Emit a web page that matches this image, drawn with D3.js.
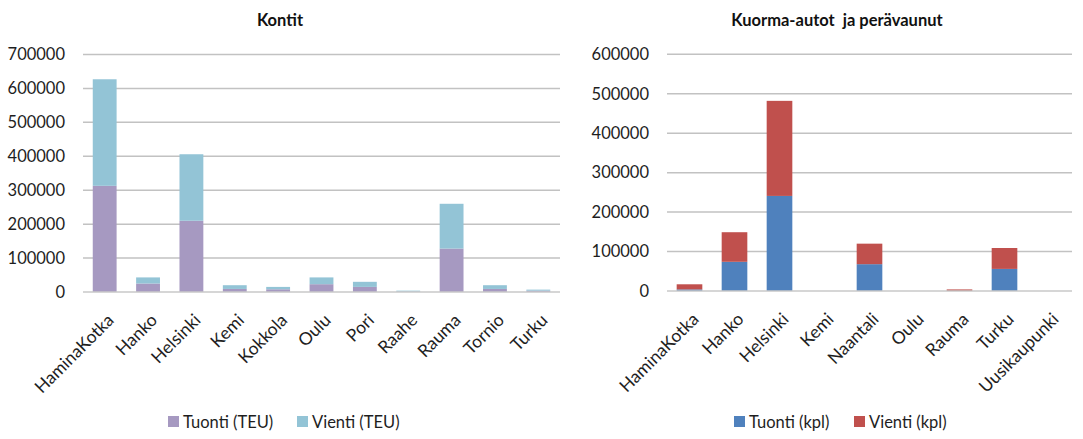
<!DOCTYPE html>
<html>
<head>
<meta charset="utf-8">
<script src="https://cdn.jsdelivr.net/npm/d3@7"></script>
<style>
  html, body { margin: 0; padding: 0; background: #fff; }
  svg { display: block; font-family: Lato, "Open Sans", sans-serif; }
  .title { white-space: pre; }
</style>
</head>
<body>
<svg id="chart" width="1083" height="439"></svg>
<script>
// Kontit (TEU) by port
const konttiPorts = ["HaminaKotka", "Hanko", "Helsinki", "Kemi", "Kokkola", "Oulu", "Pori", "Raahe", "Rauma", "Tornio", "Turku"];
const konttiTuonti = [313000, 25000, 210000, 9000, 8000, 23000, 15000, 1000, 128000, 9000, 4000];
const konttiVienti = [314000, 18000, 196000, 11000, 7000, 20000, 15000, 3000, 132000, 11000, 3000];
const konttiTicks = [0, 100000, 200000, 300000, 400000, 500000, 600000, 700000];

// Kuorma-autot ja perävaunut (kpl) by port
const autoPorts = ["HaminaKotka", "Hanko", "Helsinki", "Kemi", "Naantali", "Oulu", "Rauma", "Turku", "Uusikaupunki"];
const autoTuonti = [4000, 74000, 241000, 0, 68000, 0, 0, 56000, 0];
const autoVienti = [13000, 75000, 241000, 0, 52000, 0, 4000, 53000, 0];
const autoTicks = [0, 100000, 200000, 300000, 400000, 500000, 600000];

const svg = d3.select("#chart");
const textColor = "#1e1e1e";

function drawChart(opt) {
  const g = svg.append("g");
  const x = d3.scaleBand().domain(opt.categories).range([opt.x0, opt.x1]).paddingInner(opt.pad).paddingOuter(opt.pad / 2);
  const y = d3.scaleLinear().domain([0, opt.max]).range([opt.y0, opt.y1]);

  // title
  g.append("text")
    .attr("class", "title")
    .attr("x", opt.titleX).attr("y", 26)
    .attr("text-anchor", "middle")
    .attr("font-size", 16.5).attr("font-weight", "bold").attr("fill", "#111")
    .text(opt.title);

  // horizontal gridlines
  g.append("g").selectAll("line")
    .data(opt.ticks.filter(t => t > 0))
    .join("line")
    .attr("x1", opt.x0).attr("x2", opt.x1)
    .attr("y1", d => y(d)).attr("y2", d => y(d))
    .attr("stroke", "#c2c2c2").attr("stroke-width", 1.5);

  // y axis labels
  const yAxis = d3.axisLeft(y).tickValues(opt.ticks).tickSize(0).tickPadding(opt.yPad).tickFormat(d3.format("d"));
  const ya = g.append("g").attr("transform", `translate(${opt.x0},0)`).call(yAxis);
  ya.select(".domain").remove();
  ya.selectAll("text").attr("font-size", 16.5).attr("fill", textColor).attr("font-family", "Lato, sans-serif");

  // stacked bars
  const rows = opt.categories.map((c, i) => ({ c, a: opt.tuonti[i], b: opt.vienti[i] }));
  g.append("g").selectAll("rect")
    .data(rows).join("rect")
    .attr("x", d => x(d.c)).attr("width", x.bandwidth())
    .attr("y", d => y(d.a)).attr("height", d => y(0) - y(d.a))
    .attr("fill", opt.colors[0]);
  g.append("g").selectAll("rect")
    .data(rows).join("rect")
    .attr("x", d => x(d.c)).attr("width", x.bandwidth())
    .attr("y", d => y(d.a + d.b)).attr("height", d => y(d.a) - y(d.a + d.b))
    .attr("fill", opt.colors[1]);

  // x axis
  const xAxis = d3.axisBottom(x).tickSize(0).tickPadding(0);
  const xa = g.append("g").attr("transform", `translate(0,${opt.y0})`).call(xAxis);
  xa.select(".domain").attr("stroke", "#c8c8c8").attr("stroke-width", 1.5).attr("d", `M${opt.x0},0H${opt.x1}`);
  xa.selectAll("text")
    .attr("font-size", 17.5).attr("fill", textColor).attr("font-family", "Lato, sans-serif")
    .attr("text-anchor", "end")
    .attr("dy", "0.35em")
    .attr("transform", "translate(6,25) rotate(-45)");

  // legend
  const leg = g.append("g");
  opt.legend.forEach((l, i) => {
    leg.append("rect").attr("x", l.x).attr("y", 416).attr("width", 11).attr("height", 11).attr("fill", opt.colors[i]);
    leg.append("text").attr("x", l.x + 15).attr("y", 427.5)
      .attr("font-size", 16.5).attr("fill", textColor).text(l.label);
  });
}

drawChart({
  title: "Kontit", titleX: 280,
  categories: konttiPorts, tuonti: konttiTuonti, vienti: konttiVienti, ticks: konttiTicks, max: 700000,
  x0: 83, x1: 560, y0: 292, y1: 54.5, pad: 0.45, yPad: 18,
  colors: ["#a699c1", "#93c4d6"],
  legend: [{ x: 168, label: "Tuonti (TEU)" }, { x: 297, label: "Vienti (TEU)" }]
});

drawChart({
  title: "Kuorma-autot  ja perävaunut", titleX: 837,
  categories: autoPorts, tuonti: autoTuonti, vienti: autoVienti, ticks: autoTicks, max: 600000,
  x0: 667, x1: 1072, y0: 291, y1: 54.3, pad: 0.43, yPad: 18,
  colors: ["#4f81bd", "#c0504d"],
  legend: [{ x: 734, label: "Tuonti (kpl)" }, { x: 854, label: "Vienti (kpl)" }]
});
</script>
</body>
</html>
